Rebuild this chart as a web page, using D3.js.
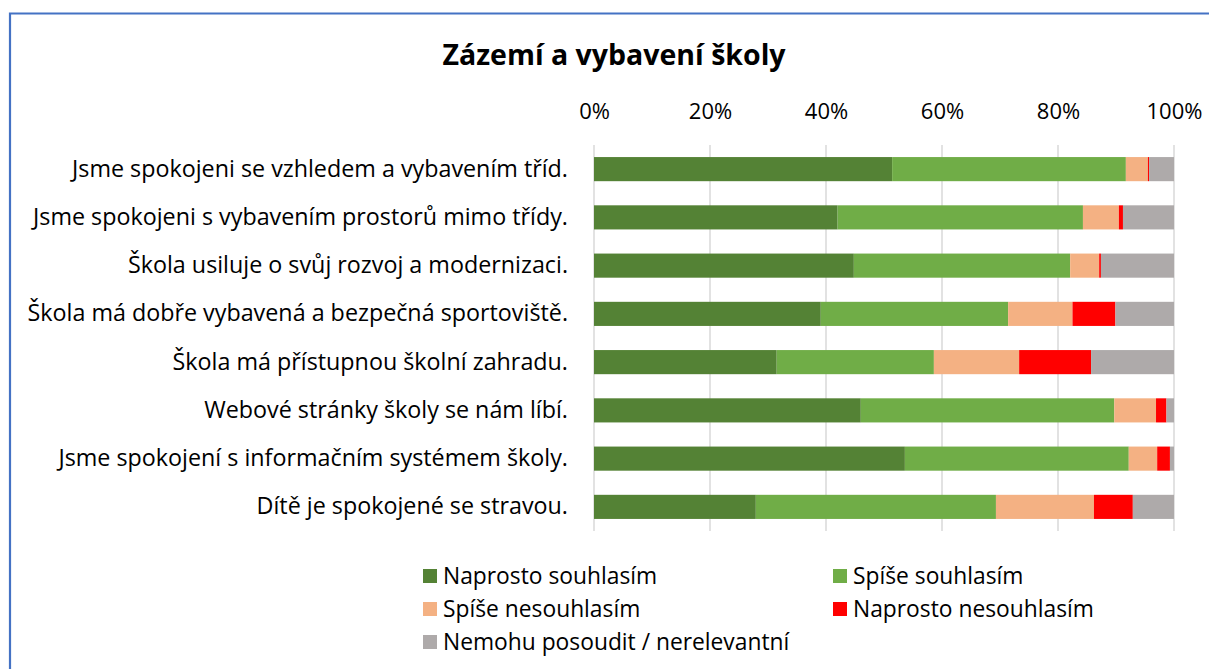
<!DOCTYPE html>
<html><head><meta charset="utf-8">
<script src="https://cdn.jsdelivr.net/npm/d3@7"></script>
<style>html,body{margin:0;padding:0;background:#fff;}svg{display:block;}</style>
</head><body>
<svg id="c" width="1209" height="669"></svg>
<script>
const categories = [
  "Jsme spokojeni se vzhledem a vybavením tříd.",
  "Jsme spokojeni s vybavením prostorů mimo třídy.",
  "Škola usiluje o svůj rozvoj a modernizaci.",
  "Škola má dobře vybavená a bezpečná sportoviště.",
  "Škola má přístupnou školní zahradu.",
  "Webové stránky školy se nám líbí.",
  "Jsme spokojení s informačním systémem školy.",
  "Dítě je spokojené se stravou."
];
const seriesNames = ["Naprosto souhlasím","Spíše souhlasím","Spíše nesouhlasím","Naprosto nesouhlasím","Nemohu posoudit / nerelevantní"];
const naprostoSouhlasim   = [51.4, 42.0, 44.8, 39.1, 31.5, 46.0, 53.6, 27.9];
const spiseSouhlasim      = [40.3, 42.3, 37.3, 32.3, 27.1, 43.7, 38.6, 41.4];
const spiseNesouhlasim    = [ 3.8,  6.2,  5.0, 11.1, 14.7,  7.2,  4.9, 16.9];
const naprostoNesouhlasim = [ 0.2,  0.7,  0.3,  7.4, 12.4,  1.8,  2.2,  6.7];
const nemohuPosoudit      = [ 4.3,  8.8, 12.6, 10.1, 14.3,  1.3,  0.7,  7.1];
const tickLabels = ["0%","20%","40%","60%","80%","100%"];
const colors = ["#548235","#70AD47","#F4B183","#FF0000","#AEAAAA"];

const FONT = "'Open Sans', Lato, sans-serif";
const svg = d3.select("#c");

// chart border
svg.append("path").attr("d","M10,680 L10,13.5 L1220,13.5")
  .attr("fill","none").attr("stroke","#4472C4").attr("stroke-width",2.2);

svg.append("text").attr("x",614).attr("y",65).attr("text-anchor","middle")
  .attr("font-family",FONT).attr("font-weight","bold").attr("font-size",28.5)
  .attr("fill","#000").text("Zázemí a vybavení školy");

const allSeries = [naprostoSouhlasim, spiseSouhlasim, spiseNesouhlasim, naprostoNesouhlasim, nemohuPosoudit];
const rows = categories.map((c,i)=>{
  const o = {cat:c};
  seriesNames.forEach((s,j)=>o[s]=allSeries[j][i]);
  return o;
});
const stack = d3.stack().keys(seriesNames).offset(d3.stackOffsetExpand)(rows);

const x = d3.scaleLinear().domain([0,1]).range([594,1174]);
const y = d3.scaleBand().domain(categories).range([145,531]).paddingInner(0.5).paddingOuter(0.25);

// gridlines
const ticks = [0,0.2,0.4,0.6,0.8,1];
svg.append("g").selectAll("line").data(ticks).join("line")
  .attr("x1",d=>x(d)).attr("x2",d=>x(d)).attr("y1",145).attr("y2",531)
  .attr("stroke","#D9D9D9").attr("stroke-width",1.5);

// top axis labels
const ax = svg.append("g").attr("transform","translate(0,119)")
  .call(d3.axisTop(x).tickValues(ticks).tickFormat((d,i)=>tickLabels[i]).tickSize(0).tickPadding(0));
ax.select(".domain").remove();
ax.selectAll("text").attr("font-family",FONT).attr("font-size",22).attr("fill","#000").attr("dy",0);

// bars
svg.append("g").selectAll("g").data(stack).join("g").attr("fill",(d,i)=>colors[i])
  .selectAll("rect").data(d=>d).join("rect")
  .attr("x",d=>x(d[0])).attr("width",d=>Math.max(0,x(d[1])-x(d[0])))
  .attr("y",d=>y(d.data.cat)).attr("height",y.bandwidth());

// category labels
const ay = svg.append("g").attr("transform","translate(568,0)")
  .call(d3.axisLeft(y).tickSize(0).tickPadding(0));
ay.select(".domain").remove();
ay.selectAll("text").attr("font-family",FONT).attr("font-size",23.3).attr("fill","#000");

// legend
const legPos = [[423,576],[833,576],[423,609],[833,609],[423,642]];
const lg = svg.append("g").selectAll("g").data(seriesNames).join("g")
  .attr("transform",(d,i)=>`translate(${legPos[i][0]},${legPos[i][1]})`);
lg.append("rect").attr("x",0).attr("y",-7).attr("width",14).attr("height",14).attr("fill",(d,i)=>colors[i]);
lg.append("text").attr("x",20).attr("y",0).attr("dy","0.35em")
  .attr("font-family",FONT).attr("font-size",22.8).attr("fill","#000").text(d=>d);
</script>
</body></html>
